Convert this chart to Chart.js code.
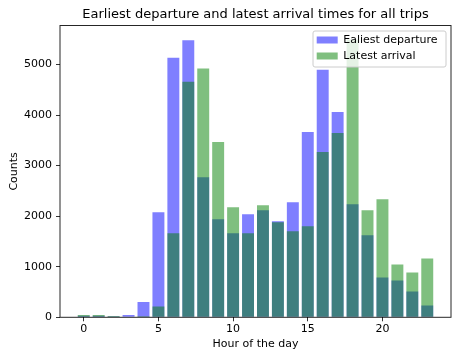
<!DOCTYPE html>
<html>
<head>
<meta charset="utf-8">
<script src="https://cdn.jsdelivr.net/npm/chart.js@4.4.1/dist/chart.umd.min.js"></script>
<style>
  html, body { margin: 0; padding: 0; background: #fff; }
  #wrap { width: 454px; height: 355px; }
</style>
</head>
<body>
<div id="wrap"><canvas id="c" width="454" height="355"></canvas></div>
<script>
// ---- data ----
const hours = [0,1,2,3,4,5,6,7,8,9,10,11,12,13,14,15,16,17,18,19,20,21,22,23];
const departure = [30, 30, 22, 46, 303, 2077, 5132, 5476, 2771, 1938, 1660, 2037, 2116, 1898, 2275, 3664, 4894, 4061, 2235, 1620, 787, 728, 509, 231];
const arrival = [46, 46, 25, 10, 20, 212, 1660, 4656, 4921, 3466, 2176, 1660, 2216, 1878, 1700, 1799, 3267, 3644, 5495, 2116, 2335, 1045, 886, 1164];
const seriesNames = ['Ealiest departure', 'Latest arrival'];
const xTicks = [0, 5, 10, 15, 20];
const yTicks = [0, 1000, 2000, 3000, 4000, 5000];
const xRange = [-1.59, 24.59];
const yRange = [0, 5770];
const titleText = 'Earliest departure and latest arrival times for all trips';
const xTitle = 'Hour of the day';
const yTitle = 'Counts';

Chart.defaults.font.family = "'DejaVu Sans', sans-serif";
Chart.defaults.font.size = 11;
Chart.defaults.color = '#000';

const LEFT = 60, RIGHT = 451, TOP = 25.5, BOTTOM = 317.3, W = 454, H = 355;

function drawFrame(chart) {
  const ctx = chart.ctx;
  const fx = chart.chartArea.right - 5 - 133, fy = chart.chartArea.top + 5.5;
  const fw = 133, fh = 36;
  ctx.save();
  ctx.beginPath();
  const r = 2;
  ctx.moveTo(fx + r, fy);
  ctx.lineTo(fx + fw - r, fy);
  ctx.quadraticCurveTo(fx + fw, fy, fx + fw, fy + r);
  ctx.lineTo(fx + fw, fy + fh - r);
  ctx.quadraticCurveTo(fx + fw, fy + fh, fx + fw - r, fy + fh);
  ctx.lineTo(fx + r, fy + fh);
  ctx.quadraticCurveTo(fx, fy + fh, fx, fy + fh - r);
  ctx.lineTo(fx, fy + r);
  ctx.quadraticCurveTo(fx, fy, fx + r, fy);
  ctx.closePath();
  ctx.fillStyle = 'rgba(255,255,255,0.8)';
  ctx.fill();
  ctx.strokeStyle = '#cccccc';
  ctx.lineWidth = 1;
  ctx.stroke();
  ctx.restore();
}

const layoutPlugin = {
  id: 'layoutFix',
  beforeLayout(chart) {
    const lg = chart.legend;
    if (lg) {
      lg._layers = function () {
        return [{ z: 1, draw: (area) => { drawFrame(chart); lg.draw(area); } }];
      };
    }
  },
  afterLayout(chart) {
    const ca = chart.chartArea;
    const lg = chart.legend;
    if (lg) {
      const fx = ca.right - 5 - 133;
      lg.left = fx - 1.3;
      lg.right = lg.left + lg.width;
      lg.top = ca.top + 4;
      lg.bottom = lg.top + lg.height;
      if (lg.adjustHitBoxes) lg.adjustHitBoxes();
    }
    const tb = chart.titleBlock;
    if (tb) {
      tb.left = ca.left;
      tb.right = ca.right;
    }
  },
  afterDatasetsDraw(chart) {
    const ca = chart.chartArea;
    const ctx = chart.ctx;
    ctx.save();
    ctx.strokeStyle = 'rgba(0,0,0,0.85)';
    ctx.lineWidth = 1;
    ctx.strokeRect(ca.left, ca.top, ca.right - ca.left, ca.bottom - ca.top);
    ctx.restore();
  }
};

new Chart(document.getElementById('c'), {
  type: 'bar',
  data: {
    datasets: [
      {
        label: seriesNames[0],
        data: hours.map((h, i) => ({ x: h, y: departure[i] })),
        backgroundColor: 'rgba(0,0,255,0.5)',
        borderWidth: 0,
        order: 0
      },
      {
        label: seriesNames[1],
        data: hours.map((h, i) => ({ x: h, y: arrival[i] })),
        backgroundColor: 'rgba(0,128,0,0.5)',
        borderWidth: 0,
        order: -1
      }
    ]
  },
  options: {
    responsive: false,
    animation: false,
    devicePixelRatio: 1,
    grouped: false,
    categoryPercentage: 1.0,
    barPercentage: 0.8,
    layout: { padding: { left: 0, right: W - RIGHT, top: 0, bottom: 0 } },
    plugins: {
      legend: {
        position: 'chartArea',
        align: 'start',
        reverse: true,
        labels: {
          boxWidth: 21,
          boxHeight: 7,
          padding: 5,
          font: { size: 11 },
          color: '#000'
        }
      },
      title: {
        display: true,
        text: titleText,
        font: { size: 13, weight: 'normal' },
        color: '#000',
        padding: { top: 6.7, bottom: TOP - 6.7 - 15.6 }
      },
      tooltip: { enabled: false }
    },
    scales: {
      x: {
        type: 'linear',
        min: xRange[0],
        max: xRange[1],
        offset: false,
        grid: { display: true, drawOnChartArea: false, drawTicks: true, tickLength: 4, tickColor: '#333', offset: false },
        border: { display: false },
        ticks: { padding: 1, font: { size: 11 }, color: '#000', maxRotation: 0, callback: (v) => String(v) },
        afterBuildTicks: (s) => { s.ticks = xTicks.map(v => ({ value: v })); },
        afterFit: (s) => { s.height = H - BOTTOM; },
        title: { display: true, text: xTitle, font: { size: 11 }, color: '#000', padding: { top: 0, bottom: 4.4 } }
      },
      y: {
        type: 'linear',
        min: yRange[0],
        max: yRange[1],
        grid: { display: true, drawOnChartArea: false, drawTicks: true, tickLength: 4, tickColor: '#333' },
        border: { display: false },
        ticks: { padding: 4, font: { size: 11 }, color: '#000', callback: (v) => String(v) },
        afterBuildTicks: (s) => { s.ticks = yTicks.map(v => ({ value: v })); },
        afterFit: (s) => { s.width = LEFT; },
        title: { display: true, text: yTitle, font: { size: 11 }, color: '#000', padding: { top: 7.7, bottom: 0 } }
      }
    }
  },
  plugins: [layoutPlugin]
});
</script>
</body>
</html>
